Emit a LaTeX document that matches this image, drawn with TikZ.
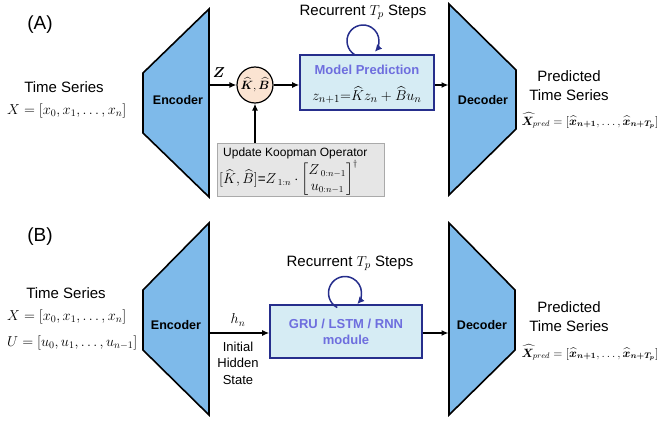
\documentclass[tikz,border=0pt]{standalone}
\usepackage{amsmath,amssymb,bm}
\usepackage[no-math]{fontspec}
\setmainfont{Liberation Sans}
\usetikzlibrary{arrows.meta}

\definecolor{coderblue}{RGB}{126,186,234}
\definecolor{navy}{RGB}{38,46,140}
\definecolor{boxfill}{RGB}{214,236,244}
\definecolor{titleblue}{RGB}{110,110,222}
\definecolor{peach}{RGB}{251,228,210}
\definecolor{updfill}{RGB}{230,230,230}
\definecolor{updline}{RGB}{170,170,170}

\tikzset{
  coder/.style={draw=black, line width=1.6pt, fill=coderblue, line join=miter},
  codertext/.style={font=\fontsize{12.5}{15}\selectfont\bfseries},
  lbl/.style={font=\fontsize{15}{19}\selectfont, align=center},
  small/.style={font=\fontsize{13}{16.5}\selectfont, align=center},
  panel/.style={font=\fontsize{19}{22}\selectfont},
  eqn/.style={font=\fontsize{14}{17}\selectfont, inner sep=0pt},
  predeqn/.style={font=\fontsize{12}{14}\selectfont, inner sep=0pt},
  flow/.style={-{Latex[length=7pt,width=6pt]}, line width=1.3pt},
  predbox/.style={draw=navy, line width=1.6pt, fill=boxfill, inner sep=0pt},
  boxtitle/.style={font=\fontsize{13}{16}\selectfont\bfseries, text=titleblue, align=center},
  recur/.style={draw=navy, line width=1.5pt, -{Latex[length=7pt,width=7pt]}},
}

\begin{document}
\begin{tikzpicture}[x=1pt,y=1pt]
\useasboundingbox (0,0) rectangle (662,421);

% ---------------- Panel (A): Koopman model ----------------
\node[panel] (pa) at (40,396) {(A)};

\node[lbl] (tsA) at (64,334) {Time Series};
\node[eqn, anchor=west] (xA) at (7,310) {$X=[x_0,x_1,\ldots,x_n]$};

\draw[coder] (143,348) -- (209,412) -- (209,224) -- (143,288) -- cycle;
\node[codertext] (encA) at (178,321) {Encoder};
\coordinate (encAout) at (209.8,336);

\node[circle, draw=black, line width=1.2pt, fill=peach, minimum size=36pt, inner sep=0pt]
  (kb) at (255,336) {\fontsize{12.5}{14}\selectfont$\widehat{\bm K},\widehat{\bm B}$};
\node[font=\fontsize{15}{17}\selectfont, inner sep=0pt] (zlbl) at (219,348) {$\bm{Z}$};

\node[predbox, minimum width=134pt, minimum height=55pt] (mp) at (367,338.5) {};
\node[boxtitle] (mpt) at (367,351) {Model Prediction};
\node[font=\fontsize{15}{17}\selectfont, inner sep=0pt] (mpe) at (367,326) {$z_{n+1}{=}\widehat{K}z_n+\widehat{B}u_n$};

\draw[recur] (363,380) ++(238:16) arc[start angle=238, end angle=-42, radius=16];
\node[lbl] (recA) at (363,409) {Recurrent $T_p$ Steps};

\draw[coder] (449,417) -- (516,351) -- (516,292) -- (449,226) -- cycle;
\node[codertext] (decA) at (483,321) {Decoder};
\coordinate (decAin) at (448.5,336);

\node[lbl] (predA) at (569,335) {Predicted\\Time Series};
\node[predeqn] (xpA) at (590,300) {$\widehat{\bm X}_{pred}=[\widehat{\bm x}_{\bm{n+1}},\ldots,\widehat{\bm x}_{\bm{n+T_p}}]$};

\node[draw=updline, line width=0.8pt, fill=updfill, minimum width=167pt, minimum height=53pt]
  (upd) at (300.5,251.5) {};
\node[font=\fontsize{12}{14}\selectfont, anchor=west, inner sep=0pt] (updt) at (223,268) {Update Koopman Operator};
\node[font=\fontsize{13.5}{16}\selectfont, anchor=west, inner sep=0pt] (upde) at (219,243)
  {$[\widehat{K},\widehat{B}]$=$Z_{\;1:n}\cdot\begin{bmatrix}Z_{\;0:n-1}\\ u_{0:n-1}\end{bmatrix}^{\dagger}$};

\draw[flow] (encAout) -- (kb.west);
\draw[flow] (kb.east) -- (kb.east -| mp.west);
\draw[flow] (kb.east -| mp.east) -- (decAin);
\draw[flow] (upd.north -| kb) -- (kb.south);

% ---------------- Panel (B): recurrent network ----------------
\node[panel] (pb) at (40,184) {(B)};

\node[lbl] (tsB) at (66,128) {Time Series};
\node[eqn, anchor=west] (xB) at (7,104) {$X=[x_0,x_1,\ldots,x_n]$};
\node[eqn, anchor=west] (uB) at (7,78) {$U=[u_0,u_1,\ldots,u_{n-1}]$};

\draw[coder] (143,131) -- (209,198) -- (209,6) -- (143,71) -- cycle;
\node[codertext] (encB) at (176,96) {Encoder};
\coordinate (encBout) at (209.8,88);

\node[eqn] (hn) at (238,101) {$h_n$};
\node[small] (ihs) at (238,58) {Initial\\Hidden\\State};

\node[predbox, minimum width=152pt, minimum height=53pt] (rnn) at (346,89.5) {};
\node[boxtitle] (rnnt) at (346,89) {GRU / LSTM / RNN\\module};

\draw[recur] (345,128) ++(242:16.5) arc[start angle=242, end angle=-42, radius=16.5];
\node[lbl] (recB) at (350,158) {Recurrent $T_p$ Steps};

\draw[coder] (449,198) -- (515,131) -- (515,71) -- (449,6) -- cycle;
\node[codertext] (decB) at (482,96) {Decoder};
\coordinate (decBin) at (448.5,88);

\node[lbl] (predB) at (569,104) {Predicted\\Time Series};
\node[predeqn] (xpB) at (590,68) {$\widehat{\bm X}_{pred}=[\widehat{\bm x}_{\bm{n+1}},\ldots,\widehat{\bm x}_{\bm{n+T_p}}]$};

\draw[flow] (encBout) -- (encBout -| rnn.west);
\draw[flow] (encBout -| rnn.east) -- (decBin);
\end{tikzpicture}
\end{document}
